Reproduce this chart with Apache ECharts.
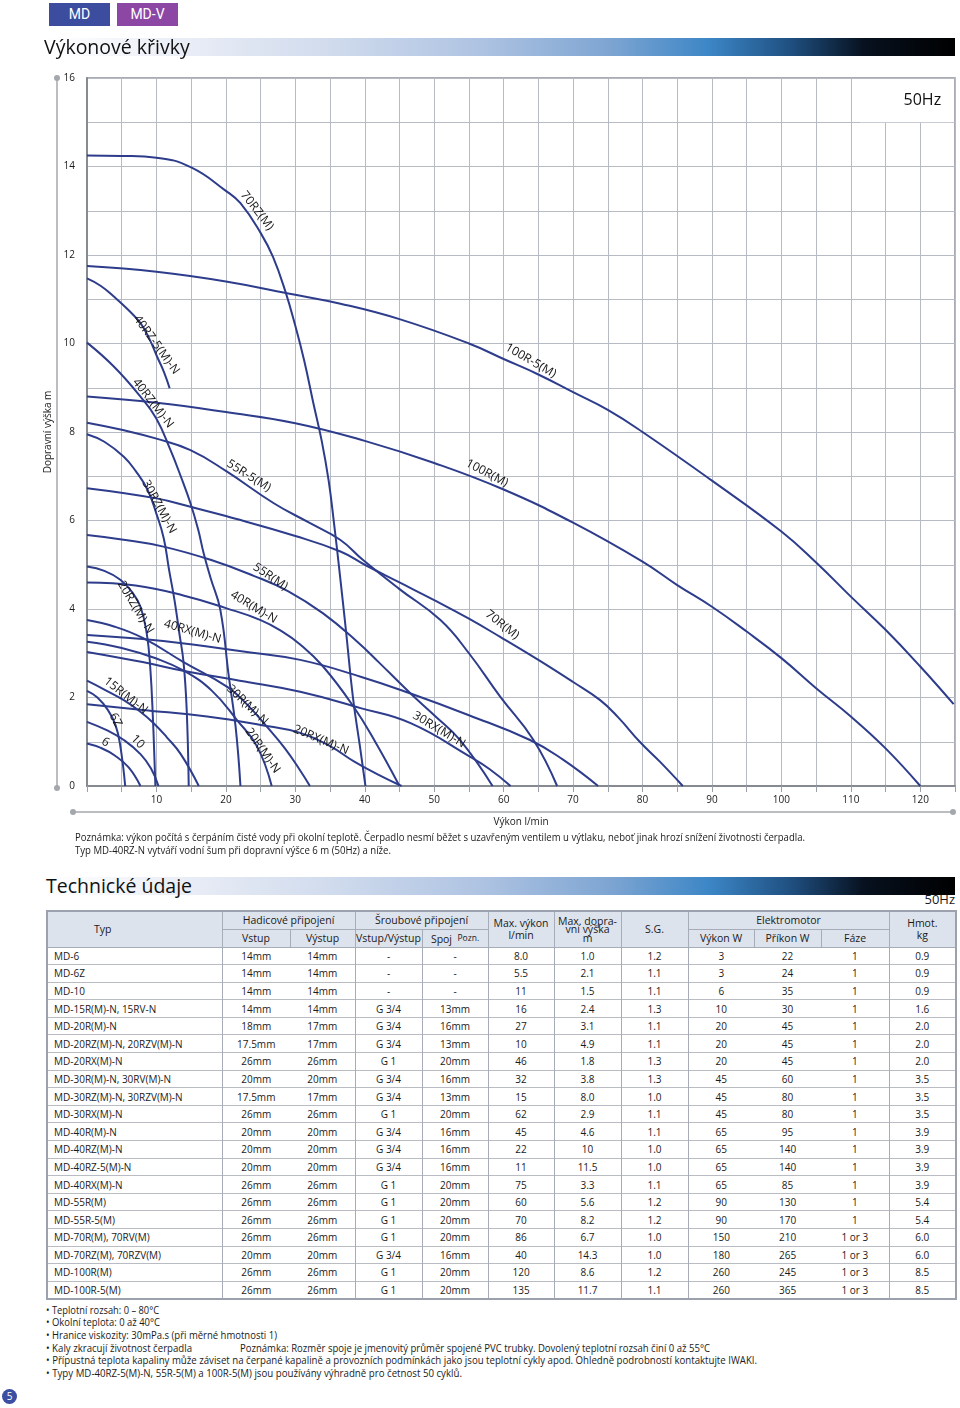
<!DOCTYPE html>
<html>
<head>
<meta charset="utf-8">
<script src="https://cdn.jsdelivr.net/npm/echarts@6/dist/echarts.min.js"></script>
<style>
  html,body{margin:0;padding:0;background:#fff;}
  body{width:960px;height:1408px;position:relative;overflow:hidden;font-family:"Open Sans",sans-serif;color:#1a1a1a;}
  .abs{position:absolute;}
  .badge{position:absolute;color:#fff;font-size:14px;line-height:23px;text-align:center;font-family:Roboto,"Open Sans",sans-serif;}
  .bar{position:absolute;background:linear-gradient(to right,#ffffff 0%,#eef1f8 12%,#d3ddee 30%,#aec3e2 48%,#7ea5d2 62%,#3c86c6 73%,#1f4f80 82%,#07111f 90%,#000 100%);}
  .title{position:absolute;font-size:19.5px;color:#111;white-space:nowrap;}
  .line{position:absolute;white-space:nowrap;font-size:10px;transform-origin:0 50%;font-family:"Open Sans",sans-serif;}
  table.spec{position:absolute;left:46px;top:910px;width:909px;border-collapse:collapse;table-layout:fixed;font-size:10px;}
  table.spec td,table.spec th{padding:0;text-align:center;white-space:nowrap;overflow:visible;}
  table.spec th{background:#dde3ed;font-weight:normal;font-size:10.5px;border:1px solid #a7adb8;line-height:12px;}
  table.spec td{height:16.6px;border-top:1px solid #b9bcc2;}
  table.spec td.typ{text-align:left;padding-left:6px;}
  table.spec td.vl{border-left:1px solid #a7adb8;}
  table.spec{border:2px solid #9ca2ad;}
</style>
</head>
<body>
<div id="chart" class="abs" style="left:0;top:0;width:960px;height:862px;"></div>

<div class="badge" style="left:49px;top:3px;width:61px;height:23px;background:#3c4d9f;">MD</div>
<div class="badge" style="left:117px;top:3px;width:61px;height:23px;background:#8c47a5;">MD-V</div>
<div class="bar" style="left:45px;top:38px;width:910px;height:18px;"></div>
<div class="title" style="left:44px;top:33px;">Výkonové křivky</div>

<div class="line fit" data-w="730" style="left:75px;top:830px;">Poznámka: výkon počítá s čerpáním čisté vody při okolní teplotě. Čerpadlo nesmí běžet s uzavřeným ventilem u výtlaku, neboť jinak hrozí snížení životnosti čerpadla.</div>
<div class="line fit" data-w="316" style="left:75px;top:843px;">Typ MD-40RZ-N vytváří vodní šum při dopravní výšce 6 m (50Hz) a níže.</div>

<div class="bar" style="left:46px;top:877px;width:909px;height:18px;"></div>
<div class="title" style="left:46px;top:872px;">Technické údaje</div>
<div class="abs" style="right:5px;top:891px;font-size:13px;line-height:16px;">50Hz</div>

<table class="spec" id="spec"></table>

<div id="notes"></div>

<div class="abs" style="left:2px;top:1389px;width:15px;height:15px;border-radius:50%;background:#3b4fa2;color:#fff;font-size:10px;line-height:15px;text-align:center;">5</div>

<script>
// ---------------- chart data (flow l/min, head m) ----------------
const xTickLabels = [10,20,30,40,50,60,70,80,90,100,110,120];
const yTickLabels = [0,2,4,6,8,10,12,14,16];

const C_6      = [[0,0.96],[2,0.86],[4,0.69],[6,0.42],[7.7,0]];
const C_6Z     = [[0,2.15],[1.5,2.0],[3,1.72],[4.1,1.38],[4.8,0.9],[5.5,0]];
const C_10     = [[0,1.45],[3,1.25],[5.3,1.04],[7.7,0.72],[9.2,0.4],[10.3,0]];
const C_15R    = [[0,2.38],[2.5,2.18],[5.3,1.94],[7.5,1.7],[9.6,1.42],[11.5,1.1],[13.5,0.72],[16.1,0]];
const C_20RZ   = [[0,4.96],[2.5,4.86],[4.8,4.66],[6.5,4.38],[7.7,4.05],[8.6,3.45],[9.1,2.7],[9.5,1.5],[9.85,0]];
const C_30RZ   = [[0,7.95],[2.5,7.78],[5.3,7.44],[7,7.12],[8.7,6.7],[10,6.15],[11.05,5.6],[11.8,4.9],[12.6,4.2],[13.3,3.45],[13.9,2.8],[14.35,1.75],[14.65,0]];
const C_40RZ   = [[0,10.02],[3.86,9.48],[7.7,8.8],[10,8.3],[12,7.6],[13.5,7.0],[14.9,6.39],[16,5.8],[16.8,5.26],[17.8,4.7],[19.2,3.98],[20.4,2.5],[21.4,1.34],[22.1,0]];
const C_40RZ5  = [[0,11.47],[2,11.3],[3.86,11.06],[6,10.75],[7.7,10.46],[9,10.1],[10.1,9.7],[11.1,9.35],[11.9,8.99]];
const C_70RZ   = [[0,14.25],[5,14.24],[10,14.2],[15,13.98],[20,13.45],[22.1,13.17],[25,12.5],[26.8,11.95],[28.6,11.16],[30,10.4],[31.3,9.6],[32.6,8.65],[33.8,7.8],[34.8,6.9],[35.6,5.9],[36.4,4.8],[37.3,3.5],[38.3,2.0],[39.3,0.9],[40.1,0]];
const C_100R5  = [[0,11.75],[10,11.62],[20,11.4],[30,11.1],[36.5,10.9],[45,10.55],[55,10.0],[60,9.65],[65,9.3],[70,8.9],[75,8.5],[80,8.0],[90,6.9],[100,5.75],[105,5.05],[110,4.28],[115,3.53],[120,2.7],[124.8,1.85]];
const C_100R   = [[0,8.8],[10,8.66],[20,8.45],[30,8.2],[40,7.8],[50,7.3],[60,6.7],[70,5.95],[80,5.07],[85,4.54],[90,4.05],[95,3.49],[100,2.89],[105,2.21],[110,1.57],[115,0.85],[120,0]];
const C_55R5   = [[0,8.21],[5,8.05],[10,7.85],[14.9,7.59],[20,7.12],[26.9,6.39],[32,5.95],[36.5,5.56],[39.8,5.1],[45,4.45],[50.9,3.75],[55,3.0],[59.5,2.02],[64.3,1.04],[67.7,0]];
const C_70R    = [[0,6.73],[10,6.5],[14.9,6.31],[20,6.1],[30,5.65],[36.5,5.3],[40,5.0],[45,4.6],[50,4.2],[55,3.78],[59.5,3.37],[65,2.85],[70,2.35],[73.9,1.94],[76.5,1.55],[79.6,1.0],[82.5,0.55],[85.8,0]];
const C_55R    = [[0,5.67],[5,5.57],[11,5.41],[18,5.1],[24,4.75],[29,4.4],[34,3.9],[39,3.25],[42,2.8],[46.6,2.09],[50,1.6],[53.7,1.04],[58.4,0]];
const C_40R    = [[0,4.6],[7,4.53],[14,4.3],[20,4.02],[25,3.75],[28,3.5],[30.7,3.2],[34,2.7],[38.4,1.79],[41.5,1.0],[45,0]];
const C_40RX   = [[0,3.41],[8,3.32],[15.2,3.2],[22,3.05],[30.7,2.85],[39.4,2.47],[46.6,2.09],[55,1.6],[63.8,1.04],[68.5,0.6],[73.6,0]];
const C_30RX   = [[0,3.03],[8,2.8],[14,2.6],[22,2.38],[30.7,2.13],[39.4,1.76],[46.6,1.42],[55.2,0.66],[58,0.38],[61,0]];
const C_30R    = [[0,3.75],[4,3.6],[8.1,3.34],[13.9,2.8],[20.2,2.24],[23,1.85],[25.9,1.34],[28.5,0.85],[30.7,0.35],[32.1,0]];
const C_20R    = [[0,3.26],[5,3.12],[10,2.88],[14,2.6],[18,2.15],[21.6,1.49],[24.5,0.89],[26.6,0]];
const C_20RX   = [[0,1.85],[8,1.72],[17.3,1.57],[25,1.38],[30.7,1.2],[35,0.9],[38.5,0.55],[42,0.25],[45.3,0]];

// curve labels: [text, flow, head, angle(deg)]
const curveLabels = [
  ['70RZ(M)',24.5,13.0,-52],
  ['40RZ-5(M)-N',10.0,9.97,-54],
  ['40RZ(M)-N',9.5,8.65,-52],
  ['30RZ(M)-N',10.4,6.31,-61],
  ['55R-5(M)',23.3,7.01,-32],
  ['100R-5(M)',63.9,9.61,-30],
  ['100R(M)',57.6,7.07,-28],
  ['55R(M)',26.4,4.73,-34],
  ['40R(M)-N',24.0,4.04,-31],
  ['20RZ(M)-N',7.0,4.04,-59],
  ['40RX(M)-N',15.2,3.49,-16],
  ['15R(M)-N',5.6,2.04,-38],
  ['6Z',4.1,1.49,-62],
  ['10',7.3,1.0,-45],
  ['6',2.66,0.99,-30],
  ['30R(M)-N',23.1,1.83,-44],
  ['20R(M)-N',25.3,0.8,-55],
  ['20RX(M)-N',33.7,1.04,-23],
  ['30RX(M)-N',50.7,1.27,-31],
  ['70R(M)',59.8,3.64,-38]
];

const curves = [C_6,C_6Z,C_10,C_15R,C_20RZ,C_30RZ,C_40RZ,C_40RZ5,C_70RZ,C_100R5,C_100R,C_55R5,C_70R,C_55R,C_40R,C_40RX,C_30RX,C_30R,C_20R,C_20RX];

// ---------------- table data ----------------
const tTyp = ['MD-6','MD-6Z','MD-10','MD-15R(M)-N, 15RV-N','MD-20R(M)-N','MD-20RZ(M)-N, 20RZV(M)-N','MD-20RX(M)-N','MD-30R(M)-N, 30RV(M)-N','MD-30RZ(M)-N, 30RZV(M)-N','MD-30RX(M)-N','MD-40R(M)-N','MD-40RZ(M)-N','MD-40RZ-5(M)-N','MD-40RX(M)-N','MD-55R(M)','MD-55R-5(M)','MD-70R(M), 70RV(M)','MD-70RZ(M), 70RZV(M)','MD-100R(M)','MD-100R-5(M)'];
const tVstup = ['14mm','14mm','14mm','14mm','18mm','17.5mm','26mm','20mm','17.5mm','26mm','20mm','20mm','20mm','26mm','26mm','26mm','26mm','20mm','26mm','26mm'];
const tVystup = ['14mm','14mm','14mm','14mm','17mm','17mm','26mm','20mm','17mm','26mm','20mm','20mm','20mm','26mm','26mm','26mm','26mm','20mm','26mm','26mm'];
const tSroub = ['-','-','-','G 3/4','G 3/4','G 3/4','G 1','G 3/4','G 3/4','G 1','G 3/4','G 3/4','G 3/4','G 1','G 1','G 1','G 1','G 3/4','G 1','G 1'];
const tSpoj = ['-','-','-','13mm','16mm','13mm','20mm','16mm','13mm','20mm','16mm','16mm','16mm','20mm','20mm','20mm','20mm','16mm','20mm','20mm'];
const tFlow = ['8.0','5.5','11','16','27','10','46','32','15','62','45','22','11','75','60','70','86','40','120','135'];
const tHead = ['1.0','2.1','1.5','2.4','3.1','4.9','1.8','3.8','8.0','2.9','4.6','10','11.5','3.3','5.6','8.2','6.7','14.3','8.6','11.7'];
const tSG = ['1.2','1.1','1.1','1.3','1.1','1.1','1.3','1.3','1.0','1.1','1.1','1.0','1.0','1.1','1.2','1.2','1.0','1.0','1.2','1.1'];
const tOut = ['3','3','6','10','20','20','20','45','45','45','65','65','65','65','90','90','150','180','260','260'];
const tIn = ['22','24','35','30','45','45','45','60','80','80','95','140','140','85','130','170','210','265','245','365'];
const tPhase = ['1','1','1','1','1','1','1','1','1','1','1','1','1','1','1','1','1 or 3','1 or 3','1 or 3','1 or 3'];
const tMass = ['0.9','0.9','0.9','1.6','2.0','2.0','2.0','3.5','3.5','3.5','3.9','3.9','3.9','3.9','5.4','5.4','6.0','6.0','8.5','8.5'];

const footnotes = [
  ['• Teplotní rozsah: 0 – 80°C',113],
  ['• Okolní teplota: 0 až 40°C',114],
  ['• Hranice viskozity: 30mPa.s (při měrné hmotnosti 1)',231],
  ['• Kaly zkracují životnost čerpadla',146],
  ['• Přípustná teplota kapaliny může záviset na čerpané kapalině a provozních podmínkách jako jsou teplotní cykly apod. Ohledně podrobností kontaktujte IWAKI.',711],
  ['• Typy MD-40RZ-5(M)-N, 55R-5(M) a 100R-5(M) jsou používány výhradně  pro četnost 50 cyklů.',416]
];
const footnoteSide = ['Poznámka: Rozměr spoje je jmenovitý průměr spojené PVC trubky. Dovolený teplotní rozsah činí 0 až 55°C',470];

// ---------------- chart ----------------
const chart = echarts.init(document.getElementById('chart'));
const lineColor = '#2e3c8c';
chart.setOption({
  animation:false,
  grid:{left:87,top:78,width:868,height:708,show:true,borderColor:'#8e939b',borderWidth:1.5,backgroundColor:'rgba(0,0,0,0)'},
  xAxis:{type:'value',min:0,max:125,interval:5,
    name:'Výkon l/min',nameLocation:'middle',nameGap:31,
    nameTextStyle:{fontSize:10,color:'#1a1a1a',fontFamily:'Open Sans'},
    axisLine:{show:true,onZero:false,lineStyle:{color:'#858a93',width:2}},
    axisTick:{show:true,length:6,lineStyle:{color:'#9ca0a8',width:1}},
    axisLabel:{formatter:v=>xTickLabels.includes(v)?String(v):'',fontSize:10,color:'#1a1a1a',margin:9,fontFamily:'Open Sans'},
    splitLine:{show:true,lineStyle:{color:'#b5bac3',width:1}}},
  yAxis:{type:'value',min:0,max:16,interval:1,
    name:'Dopravní výška m',nameLocation:'middle',nameGap:31,nameRotate:90,
    nameTextStyle:{fontSize:10,color:'#1a1a1a',fontFamily:'Open Sans'},
    axisLine:{show:true,lineStyle:{color:'#858a93',width:2}},
    axisTick:{show:false},
    axisLabel:{formatter:v=>yTickLabels.includes(v)?String(v):'',fontSize:10,color:'#1a1a1a',margin:12,fontFamily:'Open Sans'},
    splitLine:{show:true,lineStyle:{color:'#b5bac3',width:1}}},
  series:curves.map((d,i)=>({type:'line',data:d,smooth:0.45,showSymbol:false,silent:true,clip:true,z:3,
    lineStyle:{color:lineColor,width:2}}))
});

function px(p){return chart.convertToPixel({gridIndex:0},p);}
const g = [];
curveLabels.forEach(([t,x,y,a])=>{
  const p = px([x,y]);
  g.push({type:'text',x:p[0],y:p[1],rotation:a*Math.PI/180,z:20,
    style:{text:t,font:'12px "Open Sans"',fill:'#151515',align:'center',verticalAlign:'middle',textAlign:'center',textVerticalAlign:'middle'}});
});
// 50Hz box
const b1 = px([111.3,16]), b2 = px([125,15]);
g.push({type:'rect',shape:{x:b1[0],y:b1[1]+1,width:b2[0]-b1[0]-1.5,height:b2[1]-b1[1]-1},style:{fill:'#fff'},z:15});
const hz = px([120.3,15.5]);
g.push({type:'text',x:hz[0],y:hz[1],z:20,style:{text:'50Hz',font:'16px "Open Sans"',fill:'#111',align:'center',verticalAlign:'middle',textAlign:'center',textVerticalAlign:'middle'}});
// decorative axis guides
const o = px([0,0]), t = px([0,16]), r = px([125,0]);
const vx = o[0]-30, hy = o[1]+26;
g.push({type:'line',shape:{x1:vx,y1:t[1],x2:vx,y2:o[1]+2},style:{stroke:'#a4a7ad',lineWidth:1.5},z:5});
g.push({type:'circle',shape:{cx:vx,cy:t[1],r:3},style:{fill:'#a4a7ad'},z:5});
g.push({type:'circle',shape:{cx:vx,cy:o[1]+2,r:3},style:{fill:'#a4a7ad'},z:5});
g.push({type:'line',shape:{x1:o[0]-14,y1:hy,x2:r[0]-2,y2:hy},style:{stroke:'#a4a7ad',lineWidth:1.5},z:5});
g.push({type:'circle',shape:{cx:o[0]-14,cy:hy,r:3},style:{fill:'#a4a7ad'},z:5});
g.push({type:'circle',shape:{cx:r[0]-2,cy:hy,r:3},style:{fill:'#a4a7ad'},z:5});
chart.setOption({graphic:g});

// ---------------- table ----------------
const colW = [175,68,65,67,66,66,67,67,66,67,68,67];
let html = '<colgroup>'+colW.map(w=>'<col style="width:'+w+'px">').join('')+'</colgroup>';
html += '<tr style="height:18px"><th rowspan="2" style="text-align:left;padding-left:46px">Typ</th><th colspan="2">Hadicové připojení</th><th colspan="2">Šroubové připojení</th>'+
  '<th rowspan="2">Max. výkon<br>l/min</th><th rowspan="2" style="line-height:8.5px">Max. dopra-<br>vní výška<br>m</th><th rowspan="2">S.G.</th>'+
  '<th colspan="3">Elektromotor</th><th rowspan="2">Hmot.<br>kg</th></tr>';
html += '<tr style="height:18px"><th>Vstup</th><th>Výstup</th><th>Vstup/Výstup</th><th>Spoj&nbsp;&nbsp;<span style="font-size:8.5px;vertical-align:2px">Pozn.</span></th><th>Výkon W</th><th>Příkon W</th><th>Fáze</th></tr>';
for(let i=0;i<tTyp.length;i++){
  html += '<tr>'+
    '<td class="typ">'+tTyp[i]+'</td>'+
    '<td class="vl">'+tVstup[i]+'</td><td>'+tVystup[i]+'</td>'+
    '<td class="vl">'+tSroub[i]+'</td><td class="vl">'+tSpoj[i]+'</td>'+
    '<td class="vl">'+tFlow[i]+'</td><td class="vl">'+tHead[i]+'</td><td class="vl">'+tSG[i]+'</td>'+
    '<td class="vl">'+tOut[i]+'</td><td>'+tIn[i]+'</td><td>'+tPhase[i]+'</td>'+
    '<td class="vl">'+tMass[i]+'</td></tr>';
}
document.getElementById('spec').innerHTML = html;

// ---------------- footnotes ----------------
const notes = document.getElementById('notes');
footnotes.forEach(([txt,w],i)=>{
  const d = document.createElement('div');
  d.className='line fit'; d.dataset.w = w;
  d.style.left='46px'; d.style.top=(1302.5+12.7*i)+'px';
  d.textContent = txt; notes.appendChild(d);
});
{
  const d = document.createElement('div');
  d.className='line fit'; d.dataset.w = footnoteSide[1];
  d.style.left='240px'; d.style.top=(1302.5+12.7*3)+'px';
  d.textContent = footnoteSide[0]; notes.appendChild(d);
}
document.querySelectorAll('.fit').forEach(el=>{
  const w = el.getBoundingClientRect().width;
  const target = +el.dataset.w;
  if(w>0) el.style.transform = 'scaleX('+(target/w)+')';
});
</script>
</body>
</html>
